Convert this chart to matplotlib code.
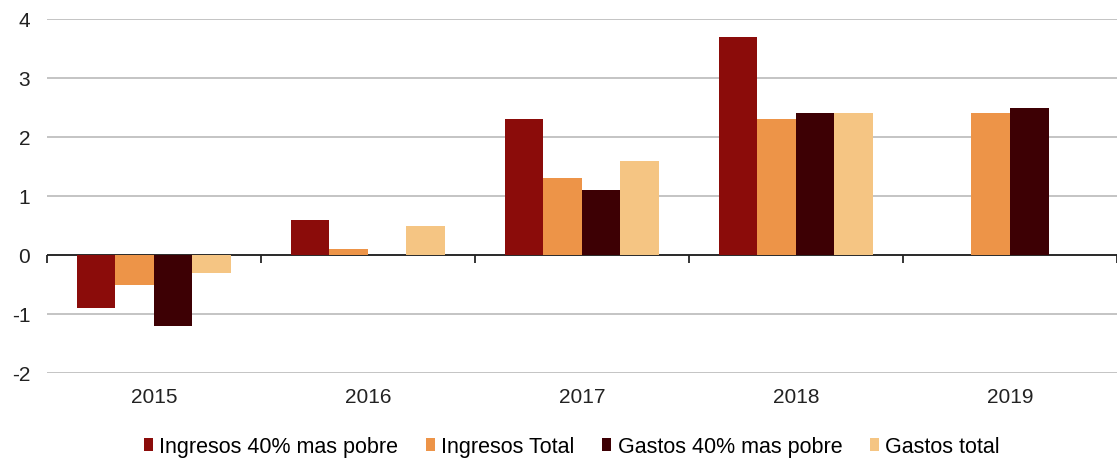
import numpy as np
import matplotlib.pyplot as plt

plt.rcParams['font.family'] = ['Liberation Sans', 'DejaVu Sans']
plt.rcParams['axes.unicode_minus'] = False

years = ['2015', '2016', '2017', '2018', '2019']
series_names = ['Ingresos 40% mas pobre', 'Ingresos Total', 'Gastos 40% mas pobre', 'Gastos total']
ingresos_pobre = [-0.9, 0.6, 2.3, 3.7, np.nan]
ingresos_total = [-0.5, 0.1, 1.3, 2.3, 2.4]
gastos_pobre = [-1.2, 0.0, 1.1, 2.4, 2.5]
gastos_total = [-0.3, 0.5, 1.6, 2.4, np.nan]
colors = ['#8B0C0A', '#ED9448', '#3D0004', '#F5C583']

fig = plt.figure(figsize=(11.17, 4.59), dpi=100)
ax = fig.add_axes([0.042, 0.187, 0.958, 0.7715])

x = np.arange(len(years))
width = 0.18
all_series = [ingresos_pobre, ingresos_total, gastos_pobre, gastos_total]
for i, (vals, name, c) in enumerate(zip(all_series, series_names, colors)):
    ax.bar(x + (i - 1.5) * width, vals, width, color=c, label=name,
           linewidth=0, zorder=3)

ymin, ymax = -2, 4
ax.set_ylim(ymin, ymax)
ax.set_xlim(-0.5, len(years) - 0.5)
ax.set_yticks(range(ymin, ymax + 1))
ax.yaxis.grid(True, color='#B4B4B4', linewidth=1.1, zorder=0)
ax.set_axisbelow(True)
for s in ax.spines.values():
    s.set_visible(False)

ax.set_xticks(x)
ax.set_xticklabels(years)
ax.tick_params(axis='both', length=0, labelsize=15, colors='#222222')
ax.tick_params(axis='y', pad=12)
ax.tick_params(axis='x', pad=11)

# zero line with tick marks between the years
ax.axhline(0, color='black', linewidth=1.1, zorder=2)
zero = ax.secondary_xaxis((0 - ymin) / (ymax - ymin))
zero.spines['bottom'].set_visible(False)
zero.set_xticks(np.arange(len(years) + 1) - 0.5)
zero.tick_params(length=6, width=1.1, color='black', labelbottom=False, direction='out')

fig.legend(loc='center', bbox_to_anchor=(0.512, 0.026), ncol=4, frameon=False,
           fontsize=15.5, handlelength=0.4, handleheight=0.55, handletextpad=0.3,
           columnspacing=1.3)

fig.savefig('out.png', dpi=100)
